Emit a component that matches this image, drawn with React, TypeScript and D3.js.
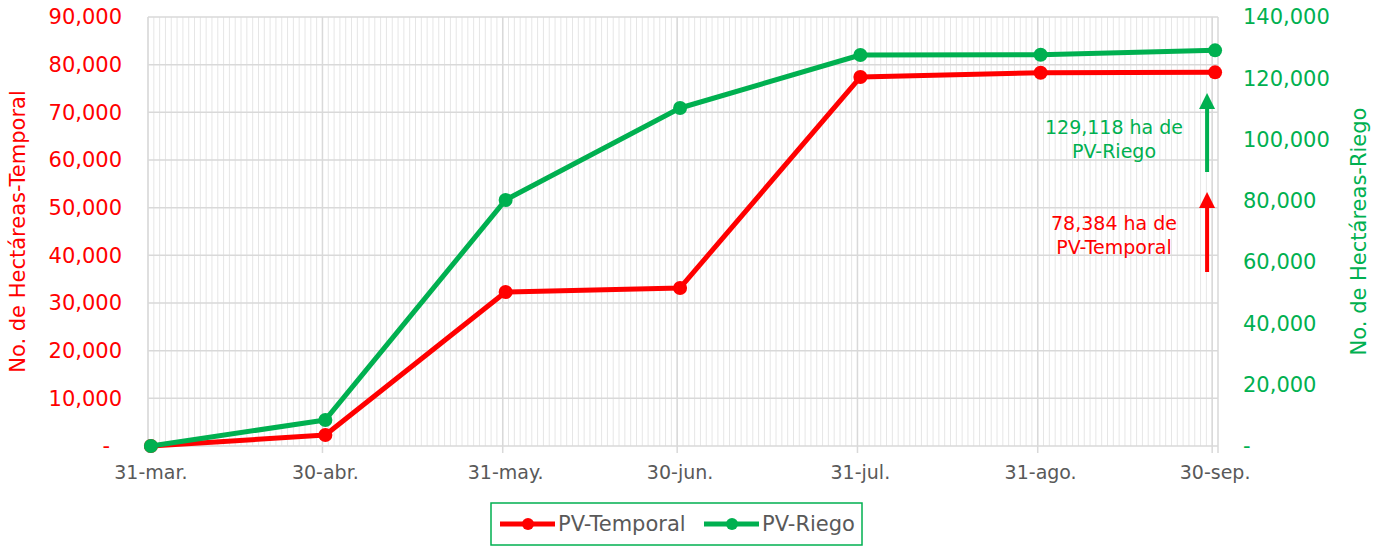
import React, { useEffect, useRef } from 'react';
import * as d3 from 'd3';

// data
const dates = ['2023-03-31', '2023-04-30', '2023-05-31', '2023-06-30', '2023-07-31', '2023-08-31', '2023-09-30'];
const tickLabels = ['31-mar.', '30-abr.', '31-may.', '30-jun.', '31-jul.', '31-ago.', '30-sep.'];
const temporal = [0, 2300, 32300, 33150, 77400, 78300, 78384];
const riego = [0, 8500, 80300, 110300, 127600, 127700, 129118];
const leftTicks = [0, 10000, 20000, 30000, 40000, 50000, 60000, 70000, 80000, 90000];
const rightTicks = [0, 20000, 40000, 60000, 80000, 100000, 120000, 140000];

const RED = '#ff0000';
const GREEN = '#00b050';
const GRAY = '#595959';
const FONT = 'DejaVu Sans, sans-serif';

const App = () => {
  const svgRef = useRef<SVGSVGElement>(null);

  const width = 1375;
  const height = 547;
  const margin = { top: 17, right: 157, bottom: 101, left: 148 };

  useEffect(() => {
    document.body.style.margin = '0';
    const svg = d3.select(svgRef.current);
    svg.selectAll('*').remove();

    const parse = d3.utcParse('%Y-%m-%d');
    const days = dates.map(d => parse(d) as Date);
    const start = days[0];
    const end = d3.utcDay.offset(days[days.length - 1], 1);

    const x = d3.scaleUtc().domain([start, end]).range([margin.left, width - margin.right]);
    const mid = (d: Date) => x(d3.utcHour.offset(d, 12));
    const yL = d3.scaleLinear().domain([0, 90000]).range([height - margin.bottom, margin.top]);
    const yR = d3.scaleLinear().domain([0, 140000]).range([height - margin.bottom, margin.top]);
    const bottom = height - margin.bottom;

    // minor daily gridlines
    svg.append('g')
      .selectAll('line')
      .data(d3.utcDay.range(start, end))
      .enter().append('line')
      .attr('x1', d => x(d)).attr('x2', d => x(d))
      .attr('y1', margin.top).attr('y2', bottom)
      .attr('stroke', '#e6e6e6').attr('stroke-width', 1);

    // horizontal gridlines
    svg.append('g')
      .selectAll('line')
      .data(leftTicks)
      .enter().append('line')
      .attr('x1', margin.left).attr('x2', width - margin.right)
      .attr('y1', d => yL(d)).attr('y2', d => yL(d))
      .attr('stroke', '#d9d9d9').attr('stroke-width', 1.5);

    // major vertical gridlines + ticks
    svg.append('g')
      .selectAll('line')
      .data([...days, end])
      .enter().append('line')
      .attr('x1', d => x(d)).attr('x2', d => x(d))
      .attr('y1', margin.top).attr('y2', bottom + 7)
      .attr('stroke', '#d9d9d9').attr('stroke-width', 1.5);

    // x labels
    svg.append('g')
      .selectAll('text')
      .data(days)
      .enter().append('text')
      .attr('x', d => mid(d))
      .attr('y', bottom + 33)
      .attr('text-anchor', 'middle')
      .style('font-family', FONT)
      .style('font-size', '19px')
      .attr('fill', GRAY)
      .text((d, i) => tickLabels[i]);

    const fmt = (v: number) => (v === 0 ? '-' : d3.format(',')(v));

    // left axis labels
    svg.append('g')
      .selectAll('text')
      .data(leftTicks)
      .enter().append('text')
      .attr('x', d => (d === 0 ? 110 : 122))
      .attr('y', d => yL(d))
      .attr('dy', '0.35em')
      .attr('text-anchor', 'end')
      .style('font-family', FONT)
      .style('font-size', '21px')
      .attr('fill', RED)
      .text(fmt);

    // right axis labels
    svg.append('g')
      .selectAll('text')
      .data(rightTicks)
      .enter().append('text')
      .attr('x', 1243)
      .attr('y', d => yR(d))
      .attr('dy', '0.35em')
      .attr('text-anchor', 'start')
      .style('font-family', FONT)
      .style('font-size', '21px')
      .attr('fill', GREEN)
      .text(fmt);

    // axis titles
    svg.append('text')
      .attr('transform', `translate(25,${(margin.top + bottom) / 2}) rotate(-90)`)
      .attr('text-anchor', 'middle')
      .style('font-family', FONT)
      .style('font-size', '21px')
      .attr('fill', RED)
      .text('No. de Hectáreas-Temporal');

    svg.append('text')
      .attr('transform', `translate(1366,${(margin.top + bottom) / 2}) rotate(-90)`)
      .attr('text-anchor', 'middle')
      .style('font-family', FONT)
      .style('font-size', '21px')
      .attr('fill', GREEN)
      .text('No. de Hectáreas-Riego');

    // series
    const series = [
      { name: 'PV-Temporal', values: temporal, y: yL, color: RED },
      { name: 'PV-Riego', values: riego, y: yR, color: GREEN },
    ];

    series.forEach(s => {
      const line = d3.line<number>()
        .x((d, i) => mid(days[i]))
        .y(d => s.y(d));
      svg.append('path')
        .datum(s.values)
        .attr('d', line)
        .attr('fill', 'none')
        .attr('stroke', s.color)
        .attr('stroke-width', 5)
        .attr('stroke-linejoin', 'round');
      svg.append('g')
        .selectAll('circle')
        .data(s.values)
        .enter().append('circle')
        .attr('cx', (d, i) => mid(days[i]))
        .attr('cy', d => s.y(d))
        .attr('r', 7)
        .attr('fill', s.color);
    });

    // annotations
    const ax = mid(days[days.length - 1]) - 8;
    const arrow = (y1: number, y2: number, color: string) => {
      svg.append('line')
        .attr('x1', ax).attr('x2', ax)
        .attr('y1', y1).attr('y2', y2 + 14)
        .attr('stroke', color).attr('stroke-width', 4);
      svg.append('path')
        .attr('d', `M${ax},${y2} L${ax - 8},${y2 + 16} L${ax + 8},${y2 + 16} Z`)
        .attr('fill', color);
    };
    arrow(172, 93, GREEN);
    arrow(272, 192, RED);

    const note = (lines: string[], yTop: number, color: string) => {
      lines.forEach((t, i) => {
        svg.append('text')
          .attr('x', 1114)
          .attr('y', yTop + i * 24)
          .attr('text-anchor', 'middle')
          .style('font-family', FONT)
          .style('font-size', '19px')
          .attr('fill', color)
          .text(t);
      });
    };
    note(['129,118 ha de', 'PV-Riego'], 134, GREEN);
    note(['78,384 ha de', 'PV-Temporal'], 230, RED);

    // legend
    const legend = svg.append('g');
    legend.append('rect')
      .attr('x', 491).attr('y', 503)
      .attr('width', 371).attr('height', 42)
      .attr('fill', 'white')
      .attr('stroke', GREEN).attr('stroke-width', 1.5);
    const items = [
      { s: series[0], x: 500 },
      { s: series[1], x: 704 },
    ];
    items.forEach(({ s, x: lx }) => {
      legend.append('line')
        .attr('x1', lx).attr('x2', lx + 55)
        .attr('y1', 524).attr('y2', 524)
        .attr('stroke', s.color).attr('stroke-width', 5);
      legend.append('circle')
        .attr('cx', lx + 28).attr('cy', 524).attr('r', 6)
        .attr('fill', s.color);
      legend.append('text')
        .attr('x', lx + 58).attr('y', 524)
        .attr('dy', '0.35em')
        .style('font-family', FONT)
        .style('font-size', '21px')
        .attr('fill', GRAY)
        .text(s.name);
    });
  }, []);

  return (
    <div style={{ width: '100%', height: '100%' }}>
      <svg ref={svgRef} width={width} height={height} style={{ display: 'block' }} />
    </div>
  );
};

export default App;
